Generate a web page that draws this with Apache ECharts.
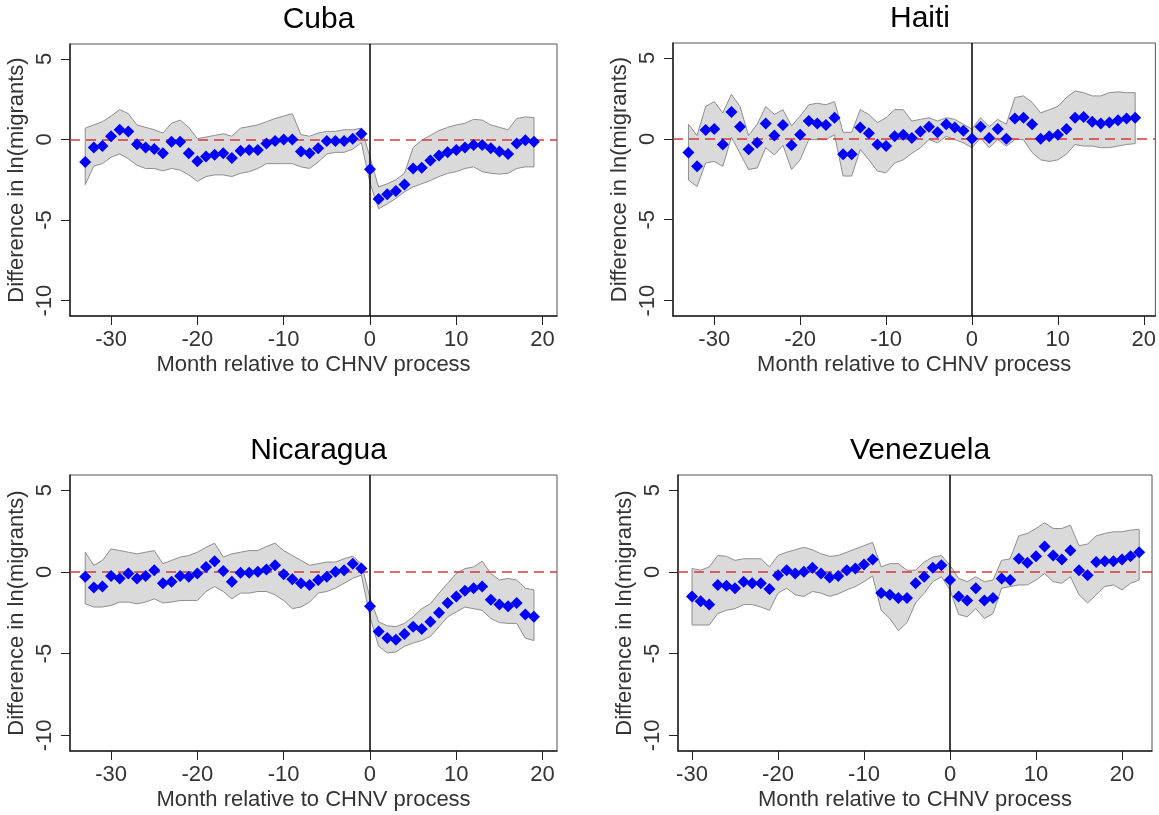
<!DOCTYPE html>
<html>
<head>
<meta charset="utf-8">
<script src="https://cdn.jsdelivr.net/npm/echarts@6/dist/echarts.min.js"></script>
<style>
    html, body { margin: 0; padding: 0; background: #fff; }
    #chart { width: 1159px; height: 815px; }
</style>
</head>
<body>
<div id="chart"></div>
<script>
    // months relative to CHNV process
    var monthsA = [-33, -32, -31, -30, -29, -28, -27, -26, -25, -24, -23, -22, -21, -20, -19, -18, -17, -16, -15, -14, -13, -12, -11, -10, -9, -8, -7, -6, -5, -4, -3, -2, -1,
        0, 1, 2, 3, 4, 5, 6, 7, 8, 9, 10, 11, 12, 13, 14, 15, 16, 17, 18, 19];
    var monthsV = [-30, -29, -28, -27, -26, -25, -24, -23, -22, -21, -20, -19, -18, -17, -16, -15, -14, -13, -12, -11, -10, -9, -8, -7, -6, -5, -4, -3, -2, -1,
        0, 1, 2, 3, 4, 5, 6, 7, 8, 9, 10, 11, 12, 13, 14, 15, 16, 17, 18, 19, 20, 21, 22];

    var xTicks = [-30, -20, -10, 0, 10, 20];
    var yTicks = [-10, -5, 0, 5];

    // Cuba
    var cubaEst = [-1.4, -0.5, -0.4, 0.2, 0.6, 0.5, -0.3, -0.5, -0.6, -0.85, -0.15, -0.15, -0.85, -1.35, -1.05, -0.95, -0.85, -1.15, -0.7, -0.65, -0.65, -0.25, -0.1, 0, 0, -0.75, -0.85, -0.55, -0.1, -0.1, -0.1, 0.05, 0.35,
        -1.85, -3.7, -3.4, -3.2, -2.8, -1.8, -1.75, -1.3, -1.0, -0.8, -0.65, -0.5, -0.35, -0.35, -0.55, -0.75, -0.9, -0.25, -0.05, -0.15];
    var cubaHi = [0.7, 0.9, 1.1, 1.45, 1.85, 1.6, 0.9, 0.75, 0.6, 0.4, 1.0, 1.2, 0.75, 0.05, 0.15, 0.25, 0.35, 0.2, 0.7, 0.8, 0.9, 1.1, 1.3, 1.45, 1.6, 0.3, 0.2, 0.4, 0.5, 0.5, 0.6, 0.6, 0.7,
        -1.1, -2.95, -2.75, -2.5, -2.1, -0.5, -0.05, 0.25, 0.55, 0.75, 0.9, 1.0, 1.25, 1.2, 0.9, 0.75, 0.6, 1.3, 1.4, 1.35];
    var cubaLo = [-2.8, -1.65, -1.5, -1.1, -0.9, -1.2, -1.6, -1.8, -1.8, -1.95, -1.8, -1.9, -2.2, -2.6, -2.3, -2.2, -2.2, -2.3, -2.1, -2.0, -1.8, -1.5, -1.5, -1.5, -1.5, -1.7, -1.8, -1.4, -0.9, -0.8, -0.8, -0.6, -0.2,
        -2.7, -4.3, -4.0, -3.65, -3.25, -2.95, -2.75, -2.55, -2.3, -2.1, -2.0, -1.8, -1.7, -2.0, -2.1, -2.15, -2.1, -1.8, -1.7, -1.7];

    // Haiti
    var haitiEst = [-0.85, -1.7, 0.55, 0.6, -0.35, 1.65, 0.75, -0.65, -0.25, 0.95, 0.2, 0.85, -0.4, 0.25, 1.1, 0.95, 0.85, 1.3, -0.95, -0.95, 0.7, 0.35, -0.35, -0.45, 0.15, 0.25, 0.05, 0.45, 0.75, 0.4, 0.9, 0.7, 0.5,
        0.0, 0.75, 0.05, 0.6, 0.0, 1.25, 1.3, 0.9, 0.0, 0.15, 0.25, 0.6, 1.3, 1.35, 1.05, 0.95, 1.0, 1.15, 1.25, 1.3];
    var haitiHi = [0.9, 0.2, 2.0, 2.3, 1.6, 2.75, 2.0, 0.2, 0.9, 2.0, 1.5, 1.8, 0.8, 1.4, 2.1, 2.2, 2.1, 2.3, 0.4, 0.4, 1.8, 1.5, 1.0, 1.3, 1.8, 1.8, 1.1, 1.2, 1.3, 1.1, 1.3, 1.2, 0.9,
        0.6, 1.3, 0.75, 1.2, 0.9, 2.55, 2.65, 2.25, 1.6, 1.8, 2.0, 2.55, 2.95, 2.85, 2.65, 2.65, 2.85, 2.9, 2.85, 2.85];
    var haitiLo = [-2.55, -2.95, -1.5, -1.4, -1.7, 0.1, -0.9, -1.9, -1.8, -0.55, -1.0, -0.4, -1.9, -1.3, -0.05, -0.05, -0.05, 0.25, -2.3, -2.3, -0.65, -1.3, -2.0, -2.1, -1.5, -1.3, -0.9, -0.55, -0.05, -0.25, 0.15, -0.05, -0.25,
        -0.55, 0.05, -0.55, -0.05, -0.45, -0.05, -0.05, -0.85, -1.3, -1.4, -1.3, -0.95, -0.35, -0.45, -0.45, -0.55, -0.55, -0.45, -0.35, -0.3];

    // Nicaragua
    var nicaEst = [-0.3, -0.95, -0.9, -0.25, -0.4, -0.1, -0.4, -0.25, 0.1, -0.7, -0.6, -0.25, -0.3, -0.1, 0.3, 0.65, 0.05, -0.6, -0.05, -0.05, 0, 0.15, 0.4, -0.15, -0.45, -0.7, -0.8, -0.5, -0.3, 0, 0.1, 0.5, 0.2,
        -2.1, -3.65, -4.05, -4.15, -3.8, -3.35, -3.5, -3.05, -2.5, -1.9, -1.5, -1.15, -1.0, -0.9, -1.7, -2.0, -2.1, -1.9, -2.6, -2.75];
    var nicaHi = [1.2, 0.4, 0.7, 1.4, 1.3, 1.2, 1.1, 1.2, 1.3, 0.5, 0.7, 0.9, 1.0, 1.2, 1.5, 1.75, 0.9, 1.1, 1.2, 1.3, 1.3, 1.55, 1.75, 1.3, 1.0, 0.7, 0.4, 0.5, 0.6, 0.6, 0.8, 0.95, 0.5,
        -1.6, -3.05, -3.3, -3.35, -3.15, -2.75, -2.25, -1.95, -1.3, -0.7, -0.1, 0.2, 0.3, 0.65, -0.1, -0.5, -0.4, -0.5, -1.0, -1.1];
    var nicaLo = [-1.95, -2.15, -2.15, -2.05, -1.85, -1.85, -1.95, -1.85, -1.65, -1.9, -1.85, -1.75, -1.75, -1.75, -1.2, -0.9, -1.2, -1.65, -1.3, -1.3, -1.2, -1.2, -1.4, -1.75, -2.25, -2.15, -1.85, -1.3, -1.2, -1.0, -0.7, -0.4, -0.2,
        -2.75, -4.55, -4.95, -4.9, -4.55, -4.35, -4.2, -3.95, -3.35, -2.75, -2.45, -2.15, -2.25, -2.35, -2.85, -3.1, -3.15, -3.15, -4.05, -4.2];

    // Venezuela
    var venEst = [-1.5, -1.8, -2.0, -0.8, -0.85, -1.0, -0.6, -0.7, -0.7, -1.05, -0.2, 0.1, -0.1, 0, 0.25, -0.1, -0.35, -0.25, 0.1, 0.2, 0.45, 0.75, -1.3, -1.4, -1.6, -1.6, -0.7, -0.3, 0.25, 0.4,
        -0.5, -1.5, -1.75, -1.0, -1.75, -1.6, -0.4, -0.5, 0.8, 0.55, 0.95, 1.55, 1.0, 0.75, 1.3, 0.1, -0.2, 0.6, 0.65, 0.65, 0.75, 0.95, 1.2];
    var venHi = [0.2, 0.1, 0.3, 1.0, 0.95, 0.7, 0.8, 0.8, 0.8, 0.3, 1.0, 1.2, 1.35, 1.5, 1.35, 1.1, 0.95, 1.0, 1.2, 1.4, 1.6, 1.8, 0.3, 0.5, 0.5, 0.1, 0.1, 0.6, 0.9, 1.0,
        0.4, -0.4, -0.6, -0.3, -0.6, -0.5, 0.7, 0.8, 2.2, 2.35, 2.65, 3.0, 2.65, 2.65, 2.85, 1.6, 1.7, 2.2, 2.35, 2.45, 2.45, 2.55, 2.6];
    var venLo = [-3.25, -3.25, -3.25, -2.55, -2.35, -2.25, -2.0, -2.0, -2.15, -2.35, -1.3, -1.0, -1.4, -1.5, -1.2, -1.3, -1.5, -1.35, -1.1, -0.9, -0.6, -0.25, -2.35, -2.85, -3.6, -3.1, -1.9, -1.3, -0.6, -0.3,
        -1.1, -2.6, -2.75, -2.25, -2.85, -2.55, -1.0, -0.9, -0.8, -0.8, -0.5, -0.1, -0.6, -0.7, -0.3, -1.4, -1.9, -1.4, -0.9, -0.8, -1.1, -0.7, -0.5];

    var FONT = 'Liberation Sans, Arial, Helvetica, sans-serif';

    var panels = [
        {name: 'Cuba', months: monthsA, est: cubaEst, hi: cubaHi, lo: cubaLo, left: 70, top: 44, width: 487, height: 272, xMin: -34.76, xMax: 21.67},
        {name: 'Haiti', months: monthsA, est: haitiEst, hi: haitiHi, lo: haitiLo, left: 673, top: 43, width: 484, height: 273, xMin: -34.8, xMax: 21.35},
        {name: 'Nicaragua', months: monthsA, est: nicaEst, hi: nicaHi, lo: nicaLo, left: 70, top: 475, width: 487, height: 276, xMin: -34.76, xMax: 21.67},
        {name: 'Venezuela', months: monthsV, est: venEst, hi: venHi, lo: venLo, left: 678, top: 475, width: 474, height: 276, xMin: -31.63, xMax: 23.49}
    ];

    var pairs = function (xs, ys) {
        var out = [];
        for (var i = 0; i < xs.length; i++) {
            out.push([xs[i], ys[i]]);
        }
        return out;
    };

    // 置信区间: 用坐标系换算出一个多边形
    var bandRenderer = function (pn) {
        return function (params, api) {
            if (params.dataIndex !== 0) {
                return;
            }
            var pts = [];
            for (var i = 0; i < pn.months.length; i++) {
                pts.push(api.coord([pn.months[i], pn.hi[i]]));
            }
            for (var j = pn.months.length - 1; j >= 0; j--) {
                pts.push(api.coord([pn.months[j], pn.lo[j]]));
            }
            return {
                type: 'polygon',
                shape: {points: pts},
                style: {fill: '#dadada', stroke: '#8e8e8e', lineWidth: 1}
            };
        };
    };

    var titles = [], grids = [], xAxes = [], yAxes = [], series = [];
    for (var p = 0; p < panels.length; p++) {
        var pn = panels[p];
        titles.push({
            text: pn.name,
            left: pn.left + pn.width / 2,
            top: pn.top - 44,
            textAlign: 'center',
            textStyle: {fontFamily: FONT, fontSize: 30, fontWeight: 'normal', color: '#000'}
        });
        grids.push({
            left: pn.left, top: pn.top, width: pn.width, height: pn.height,
            show: true, borderColor: '#555', borderWidth: 1, backgroundColor: '#fff'
        });
        xAxes.push({
            gridIndex: p,
            type: 'value',
            min: pn.xMin,
            max: pn.xMax,
            name: 'Month relative to CHNV process',
            nameLocation: 'middle',
            nameGap: 38,
            nameTextStyle: {fontFamily: FONT, fontSize: 22, color: '#333'},
            axisLine: {show: true, onZero: false, lineStyle: {color: '#222', width: 1.5}},
            axisTick: {show: true, length: 9, customValues: xTicks, lineStyle: {color: '#222'}},
            axisLabel: {customValues: xTicks, margin: 13, fontFamily: FONT, fontSize: 22, color: '#333'},
            splitLine: {show: false}
        });
        yAxes.push({
            gridIndex: p,
            type: 'value',
            min: -10.95,
            max: 5.92,
            name: 'Difference in ln(migrants)',
            nameLocation: 'middle',
            nameGap: 42,
            nameTextStyle: {fontFamily: FONT, fontSize: 22, color: '#333'},
            axisLine: {show: true, onZero: false, lineStyle: {color: '#222', width: 1.5}},
            axisTick: {show: true, length: 9, customValues: yTicks, lineStyle: {color: '#222'}},
            axisLabel: {customValues: yTicks, rotate: 90, margin: 14, fontFamily: FONT, fontSize: 22, color: '#333'},
            splitLine: {show: false}
        });
        var band = [];
        for (var i = 0; i < pn.months.length; i++) {
            band.push([pn.months[i], pn.lo[i], pn.hi[i]]);
        }
        series.push({
            type: 'custom', xAxisIndex: p, yAxisIndex: p,
            data: band,
            encode: {x: 0, y: [1, 2]},
            renderItem: bandRenderer(pn),
            silent: true, z: 1
        });
        // 参考线
        series.push({
            type: 'line', xAxisIndex: p, yAxisIndex: p,
            data: [], symbol: 'none', silent: true, z: 3,
            markLine: {
                silent: true, symbol: 'none', label: {show: false}, animation: false,
                data: [
                    {yAxis: 0, lineStyle: {color: '#d03a3a', width: 1.5, type: [10, 6]}},
                    {xAxis: 0, lineStyle: {color: '#000', width: 1.5, type: 'solid'}}
                ]
            }
        });
        series.push({
            type: 'scatter', xAxisIndex: p, yAxisIndex: p,
            data: pairs(pn.months, pn.est),
            symbol: 'diamond', symbolSize: 12, z: 5,
            itemStyle: {color: '#0000ff', opacity: 1}
        });
    }

    var myChart = echarts.init(document.getElementById('chart'));
    myChart.setOption({
        animation: false,
        backgroundColor: '#fff',
        title: titles,
        grid: grids,
        xAxis: xAxes,
        yAxis: yAxes,
        series: series
    });
</script>
</body>
</html>
